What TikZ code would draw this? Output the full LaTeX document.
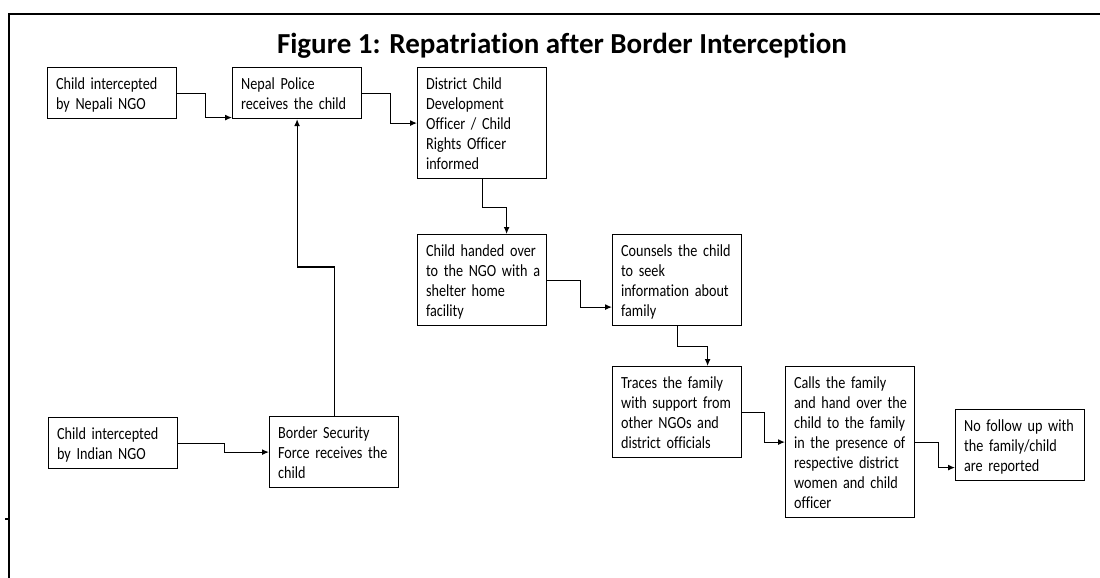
\documentclass[tikz,border=0pt]{standalone}
\usepackage{fontspec}
\setmainfont{Carlito}[Ligatures=NoCommon]
\newfontfamily\boxfont{Carlito}[Ligatures=NoCommon,FakeStretch=0.835]
\usetikzlibrary{arrows.meta}
\newcommand\boxstrut{\rule[-3.5pt]{0pt}{20pt}}
\tikzset{%
  flowbox/.style={draw,line width=1.2pt,anchor=north west,align=left,%
    text width=112pt,inner xsep=8.5pt,inner ysep=5.5pt,%
    font=\boxfont\fontsize{17pt}{20pt}\selectfont,%
    execute at begin node={\rightskip=0pt plus 1fil minus 24pt\boxstrut},%
    execute at end node=\boxstrut},%
  flow/.style={line width=1.2pt,-{Latex[length=7pt,width=6pt]}}%
}

\begin{document}
\begin{tikzpicture}[x=1pt,y=-1pt]%
  \useasboundingbox (0,0) rectangle (1100,578);%
  % Frame and title
  \draw[line width=2pt] (1100,14) -- (9,14) -- (9,578);%
  \draw[line width=2pt] (5,519) -- (9,519);%
  \node[anchor=base,font=\fontsize{29pt}{34pt}\selectfont\bfseries] (title)%
    at (562,53) {Figure 1: Repatriation after Border Interception};%
  % Boxes: name / left / top / text
  \foreach \name/\px/\py/\txt in {%
      nepngo/47/67/{Child intercepted\\by Nepali NGO},%
      police/232/67/{Nepal Police\\receives the child},%
      dcdo/417/67/{District Child\\Development\\Officer / Child\\Rights Officer\\informed},%
      shelter/417/234/{Child handed over\\to the NGO with a\\shelter home\\facility},%
      counsel/612/234/{Counsels the child\\to seek\\information about\\family},%
      trace/612/366/{Traces the family\\with support from\\other NGOs and\\district officials},%
      handover/785/366/{Calls the family\\and hand over the\\child to the family\\in the presence of\\respective district\\women and child\\officer},%
      nofollow/955/409/{No follow up with\\the family/child\\are reported},%
      indngo/48/417/{Child intercepted\\by Indian NGO},%
      bsf/269/416/{Border Security\\Force receives the\\child}%
    } {%
      \node[flowbox] (\name) at (\px,\py) {\txt};%
    };%
  % Elbow connectors
  \draw[flow] (nepngo.east) -- ++(28,0) |- ([yshift=-24.5pt]police.west);%
  \draw[flow] (police.east) -- ++(28,0) |- (dcdo.west);%
  \draw[flow] (dcdo.south) -- ++(0,28) -| ([xshift=24.5pt]shelter.north);%
  \draw[flow] (shelter.east) -- ++(33,0) |- ([yshift=-27pt]counsel.west);%
  \draw[flow] (counsel.south) -- ++(0,20) -| ([xshift=30.5pt]trace.north);%
  \draw[flow] (trace.east) -- ++(22,0) |- (handover.west);%
  \draw[flow] (handover.east) -- ++(23,0) |- ([yshift=-22.5pt]nofollow.west);%
  \draw[flow] (indngo.east) -- ++(46,0) |- (bsf.west);%
  \draw[flow] (bsf.north) -- ++(0,-149) -| (police.south);%
\end{tikzpicture}
\end{document}
